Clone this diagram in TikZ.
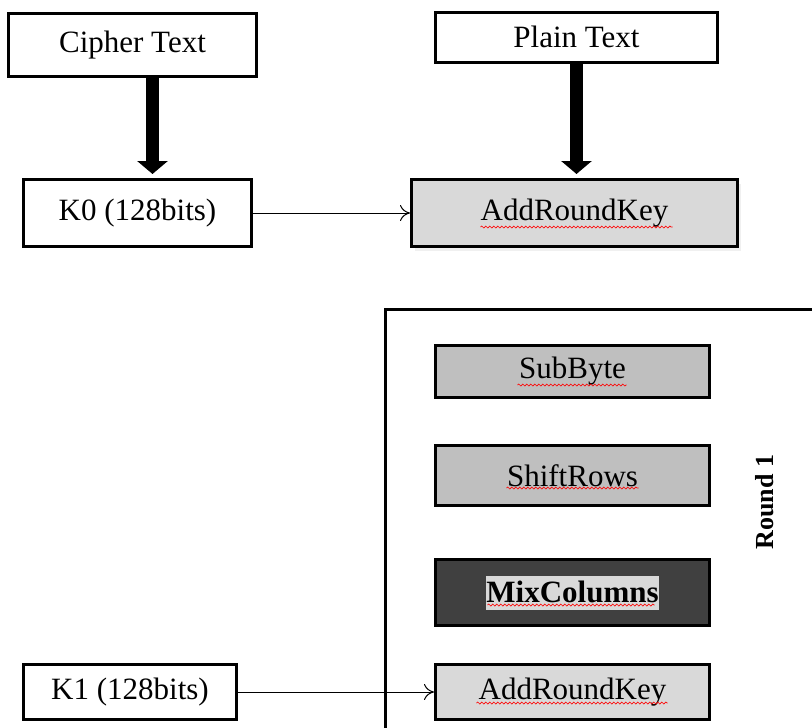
\documentclass[tikz,border=0pt]{standalone}
\usepackage{fontspec}
\setmainfont{Liberation Serif}
\usetikzlibrary{arrows.meta,calc,shadows,decorations.pathmorphing}
\definecolor{lightfill}{HTML}{D9D9D9}
\definecolor{midfill}{HTML}{BFBFBF}
\definecolor{darkfill}{HTML}{404040}
\begin{document}
\begin{tikzpicture}[x=1pt,y=-1pt,
  box/.style={draw,line width=3pt,rectangle,inner sep=0pt,font=\fontsize{31}{36}\selectfont},
  thick arrow/.style={line width=13pt,-{Triangle[width=30pt,length=13pt]},shorten >=4pt},
  thin arrow/.style={line width=1pt,-{To[length=10pt,width=16pt]}},
  spell/.style={draw=red,line width=0.7pt,decorate,decoration={snake,segment length=4pt,amplitude=1pt}}]
\useasboundingbox (0,0) rectangle (812,728);
% round frame
\draw[line width=3pt] (812,309) -- (385,309) -- (385,728);
% nodes
\node[box,minimum width=248pt,minimum height=63pt] (ct) at (132.5,45) {Cipher Text};
\node[box,minimum width=282pt,minimum height=50pt] (pt) at (576.5,37) {Plain Text};
\node[box,minimum width=228pt,minimum height=67pt] (k0) at (137.5,213) {K0 (128bits)};
\node[box,fill=lightfill,minimum width=326pt,minimum height=67pt,
      drop shadow={opacity=0.12,shadow xshift=3pt,shadow yshift=-4pt}] (ark0) at (574.5,213) {AddRoundKey};
\node[box,fill=midfill,minimum width=274pt,minimum height=52pt] (sb) at (572.5,371.5) {SubByte};
\node[box,fill=midfill,minimum width=274pt,minimum height=60pt] (sr) at (572.5,475.5) {ShiftRows};
\node[box,fill=darkfill,minimum width=274pt,minimum height=66pt] (mc) at (572.5,592.5)
  {\setlength{\fboxsep}{0pt}\colorbox{lightfill}{\rule[-7pt]{0pt}{34pt}\textbf{MixColumns}}};
\node[box,fill=lightfill,minimum width=274pt,minimum height=55pt] (ark1) at (572.5,692) {AddRoundKey};
\node[box,minimum width=213pt,minimum height=55pt] (k1) at (130,692) {K1 (128bits)};
\node[rotate=90,font=\fontsize{26}{30}\selectfont\bfseries] (r1) at (765,502) {Round 1};
% connectors
\coordinate (ctout) at ($(ct.south)+(20,0)$);
\draw[thick arrow] (ctout) -- (k0.north -| ctout);
\draw[thick arrow] (pt.south) -- (ark0.north -| pt.south);
\draw[thin arrow] (k0.east) -- (ark0.west);
\draw[thin arrow] (k1.east) -- (ark1.west);
% spell-check underlines
\draw[spell] ($(ark0.center)+(-94,14)$) -- ($(ark0.center)+(98,14)$);
\draw[spell] ($(sb.center)+(-55,13.5)$) -- ($(sb.center)+(54,13.5)$);
\draw[spell] ($(sr.center)+(-66,12.5)$) -- ($(sr.center)+(66,12.5)$);
\draw[spell] ($(mc.center)+(-85,12.5)$) -- ($(mc.center)+(82,12.5)$);
\draw[spell] ($(ark1.center)+(-96,11)$) -- ($(ark1.center)+(95,11)$);
\end{tikzpicture}
\end{document}
